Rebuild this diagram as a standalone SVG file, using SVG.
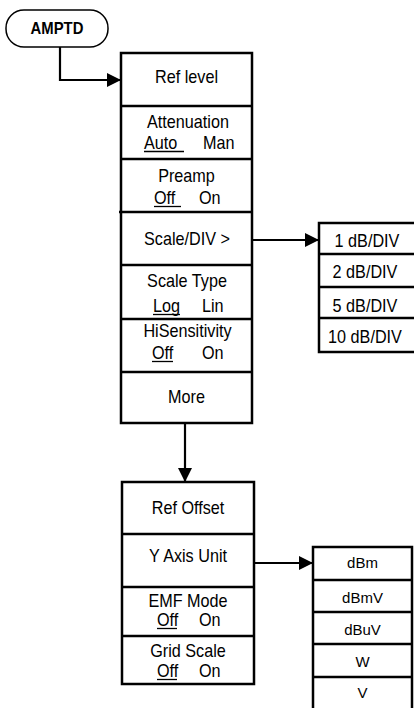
<svg xmlns="http://www.w3.org/2000/svg" width="414" height="708" viewBox="0 0 414 708">
<defs>
<style>
.box{fill:#fff;stroke:#000;stroke-width:2.5}
.div{stroke:#000;stroke-width:2.5;fill:none}
.t{font-family:"Liberation Sans",Arial,sans-serif;font-size:18px;fill:#000;text-anchor:middle}
.tl{font-family:"Liberation Sans",Arial,sans-serif;font-size:18px;fill:#000;text-anchor:start}
.u{font-family:"Liberation Sans",Arial,sans-serif;font-size:15px;fill:#000;text-anchor:middle}
.key{font-family:"Liberation Sans",Arial,sans-serif;font-size:16.5px;font-weight:bold;fill:#000;text-anchor:middle}
.ul{stroke:#000;stroke-width:1.3}
.c{stroke:#000;stroke-width:2.2;fill:none}
</style>
<marker id="ah" viewBox="0 0 14 14" refX="14" refY="7" markerWidth="14" markerHeight="14" markerUnits="userSpaceOnUse" orient="auto">
<path d="M0,0 L14,7 L0,14 Z" fill="#000"/>
</marker>
</defs>

<g id="amptd">
<rect x="6" y="10" width="102" height="37" rx="18" ry="18" fill="#fff" stroke="#000" stroke-width="1.5"/>
<text class="key" transform="translate(57,34) scale(0.9,1)">AMPTD</text>
</g>

<g id="connectors">
<path class="c" d="M60,47 V80 H121" marker-end="url(#ah)"/>
<path class="c" d="M252,240 H319" marker-end="url(#ah)"/>
<path class="c" d="M185,423 V482" marker-end="url(#ah)"/>
<path class="c" d="M254,563 H313" marker-end="url(#ah)"/>
</g>

<g id="menu1">
<rect class="box" x="121" y="53" width="131" height="370"/>
<g id="ref-level">
<text class="t" transform="translate(186.5,83) scale(0.9,1)">Ref level</text>
</g>
<g id="attenuation">
<line class="div" x1="121" y1="106" x2="252" y2="106"/>
<text class="t" transform="translate(188,128) scale(0.9,1)">Attenuation</text>
<text class="tl" transform="translate(144,149) scale(0.9,1)">Auto</text>
<line class="ul" x1="144" y1="151.5" x2="184" y2="151.5"/>
<text class="tl" transform="translate(203,149) scale(0.9,1)">Man</text>
</g>
<g id="preamp">
<line class="div" x1="121" y1="159" x2="252" y2="159"/>
<text class="t" transform="translate(186.5,182) scale(0.9,1)">Preamp</text>
<text class="tl" transform="translate(154,204) scale(0.9,1)">Off</text>
<line class="ul" x1="154" y1="206.5" x2="181" y2="206.5"/>
<text class="tl" transform="translate(199,204) scale(0.9,1)">On</text>
</g>
<g id="scale-div">
<line class="div" x1="119" y1="212" x2="252" y2="212"/>
<text class="t" transform="translate(187,245) scale(0.9,1)">Scale/DIV &gt;</text>
</g>
<g id="scale-type">
<line class="div" x1="121" y1="265" x2="252" y2="265"/>
<text class="t" transform="translate(187,287) scale(0.9,1)">Scale Type</text>
<text class="tl" transform="translate(153,312) scale(0.9,1)">Log</text>
<line class="ul" x1="153" y1="314.5" x2="180" y2="314.5"/>
<text class="tl" transform="translate(202,312) scale(0.9,1)">Lin</text>
</g>
<g id="hisensitivity">
<line class="div" x1="121" y1="319" x2="252" y2="319"/>
<text class="t" transform="translate(187.5,337) scale(0.9,1)">HiSensitivity</text>
<text class="tl" transform="translate(152,359) scale(0.9,1)">Off</text>
<line class="ul" x1="152" y1="361.5" x2="173" y2="361.5"/>
<text class="tl" transform="translate(202,359) scale(0.9,1)">On</text>
</g>
<g id="more">
<line class="div" x1="121" y1="372" x2="252" y2="372"/>
<text class="t" transform="translate(186.5,403) scale(0.9,1)">More</text>
</g>
</g>

<g id="scale-sub">
<rect class="box" x="319" y="223" width="100" height="129"/>
<line class="div" x1="319" y1="254" x2="416" y2="254"/>
<line class="div" x1="319" y1="287" x2="416" y2="287"/>
<line class="div" x1="319" y1="318" x2="416" y2="318"/>
<text class="t" transform="translate(367,247) scale(0.9,1)">1 dB/DIV</text>
<text class="t" transform="translate(365,278) scale(0.9,1)">2 dB/DIV</text>
<text class="t" transform="translate(365,312) scale(0.9,1)">5 dB/DIV</text>
<text class="t" transform="translate(365,343) scale(0.9,1)">10 dB/DIV</text>
</g>

<g id="menu2">
<rect class="box" x="122" y="482" width="132" height="202"/>
<g id="ref-offset">
<text class="t" transform="translate(188,514) scale(0.9,1)">Ref Offset</text>
</g>
<g id="y-axis-unit">
<line class="div" x1="122" y1="534" x2="254" y2="534"/>
<text class="t" transform="translate(188,562) scale(0.9,1)">Y Axis Unit</text>
</g>
<g id="emf-mode">
<line class="div" x1="122" y1="587" x2="254" y2="587"/>
<text class="t" transform="translate(188,607) scale(0.9,1)">EMF Mode</text>
<text class="tl" transform="translate(157,626) scale(0.9,1)">Off</text>
<line class="ul" x1="157" y1="628.5" x2="177" y2="628.5"/>
<text class="tl" transform="translate(199,626) scale(0.9,1)">On</text>
</g>
<g id="grid-scale">
<line class="div" x1="122" y1="636" x2="254" y2="636"/>
<text class="t" transform="translate(188,657) scale(0.9,1)">Grid Scale</text>
<text class="tl" transform="translate(157,677) scale(0.9,1)">Off</text>
<line class="ul" x1="157" y1="679.5" x2="177" y2="679.5"/>
<text class="tl" transform="translate(199,677) scale(0.9,1)">On</text>
</g>
</g>

<g id="units-sub">
<rect class="box" x="313" y="547" width="99" height="170"/>
<line class="div" x1="313" y1="580" x2="412" y2="580"/>
<line class="div" x1="313" y1="612" x2="412" y2="612"/>
<line class="div" x1="313" y1="644" x2="412" y2="644"/>
<line class="div" x1="313" y1="677" x2="412" y2="677"/>
<text class="u" x="362.5" y="568">dBm</text>
<text class="u" x="362.5" y="603">dBmV</text>
<text class="u" x="362.5" y="635">dBuV</text>
<text class="u" x="362.5" y="667">W</text>
<text class="u" x="362.5" y="698">V</text>
</g>
</svg>
